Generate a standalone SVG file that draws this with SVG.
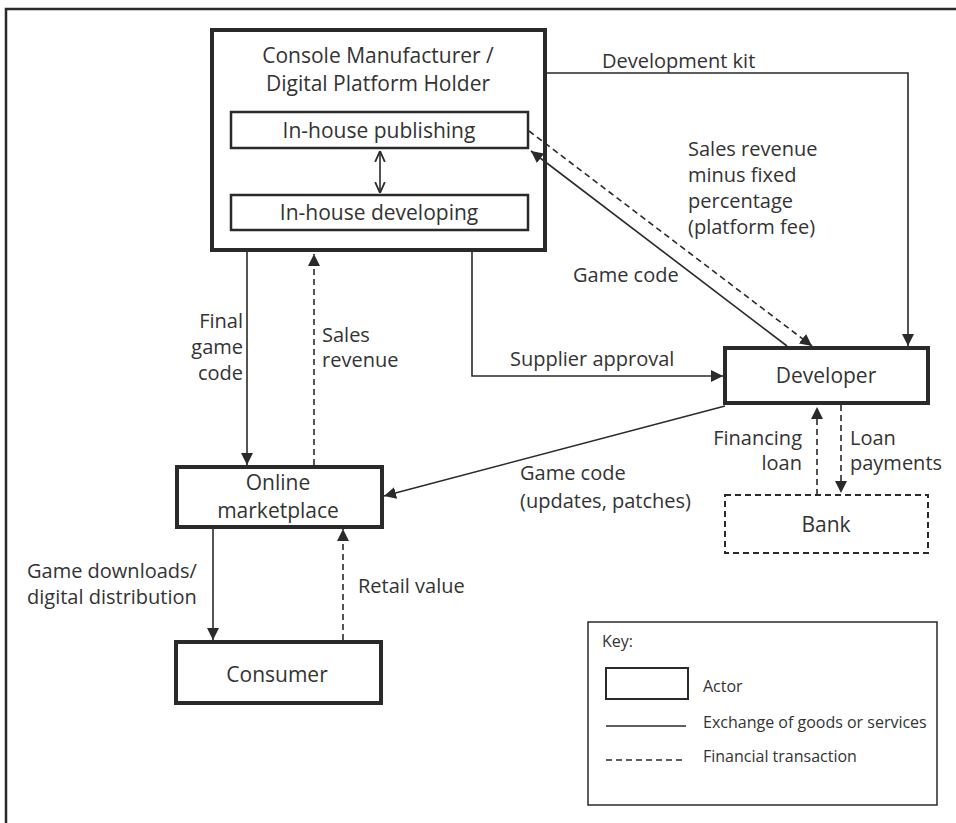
<svg xmlns="http://www.w3.org/2000/svg" width="956" height="823" viewBox="0 0 956 823">
<defs>
<style>
text{font-family:"Open Sans","Noto Sans","Liberation Sans",sans-serif;fill:#333;}
.node{font-size:21px;text-anchor:middle;}
.lbl{font-size:20px;}
.key{font-size:16px;}
.actor{fill:#fff;stroke:#2a2a2a;stroke-width:4;}
.inner{fill:#fff;stroke:#2a2a2a;stroke-width:2.5;}
.c{fill:none;stroke:#2a2a2a;stroke-width:1.6;}
.d{stroke-dasharray:6 4;}
</style>
<marker id="ah" viewBox="0 0 10 10" refX="10" refY="5" markerWidth="12" markerHeight="12" markerUnits="userSpaceOnUse" orient="auto">
<path d="M0,0 L10,5 L0,10 Z" fill="#2a2a2a"/>
</marker>
<marker id="oh" viewBox="0 0 10 10" refX="10" refY="5" markerWidth="12" markerHeight="12" markerUnits="userSpaceOnUse" orient="auto-start-reverse">
<path d="M1,1 L10,5 L1,9" fill="none" stroke="#2a2a2a" stroke-width="1.5"/>
</marker>
</defs>
<rect width="956" height="823" fill="#fff"/>
<path d="M6,823 V9 H956" fill="none" stroke="#2a2a2a" stroke-width="2.5"/>

<g id="platform-holder">
<rect class="actor" x="212" y="30" width="333" height="220"/>
<text class="node" x="378" y="63">Console Manufacturer  /</text>
<text class="node" x="378" y="91">Digital Platform Holder</text>
</g>
<g id="in-house-publishing">
<rect class="inner" x="231" y="112" width="297" height="36"/>
<text class="node" x="379" y="138">In-house publishing</text>
</g>
<g id="in-house-developing">
<rect class="inner" x="231" y="195" width="297" height="35"/>
<text class="node" x="379" y="220">In-house developing</text>
</g>
<g id="developer">
<rect class="actor" x="725" y="348" width="203" height="55"/>
<text class="node" x="826" y="383">Developer</text>
</g>
<g id="bank">
<rect x="725" y="495" width="203" height="58" fill="#fff" stroke="#2a2a2a" stroke-width="2" stroke-dasharray="6 4"/>
<text class="node" x="826" y="532">Bank</text>
</g>
<g id="online-marketplace">
<rect class="actor" x="177" y="467" width="205" height="60"/>
<text class="node" x="278" y="490">Online</text>
<text class="node" x="278" y="518">marketplace</text>
</g>
<g id="consumer">
<rect class="actor" x="176" y="642" width="205" height="61"/>
<text class="node" x="277" y="682">Consumer</text>
</g>

<g id="connectors">
<line class="c" x1="380" y1="151" x2="380" y2="193" marker-start="url(#oh)" marker-end="url(#oh)"/>
<path class="c" d="M547,73 H908 V346" marker-end="url(#ah)"/>
<line class="c" x1="787" y1="346" x2="531" y2="151" marker-end="url(#ah)"/>
<line class="c d" x1="529" y1="131" x2="812" y2="346" marker-end="url(#ah)"/>
<path class="c" d="M472,252 V376 H723" marker-end="url(#ah)"/>
<line class="c" x1="247" y1="252" x2="247" y2="465" marker-end="url(#ah)"/>
<line class="c d" x1="314" y1="465" x2="314" y2="254" marker-end="url(#ah)"/>
<line class="c" x1="725" y1="406" x2="384" y2="496" marker-end="url(#ah)"/>
<line class="c d" x1="817" y1="495" x2="817" y2="407" marker-end="url(#ah)"/>
<line class="c d" x1="841" y1="405" x2="841" y2="493" marker-end="url(#ah)"/>
<line class="c" x1="213" y1="529" x2="213" y2="640" marker-end="url(#ah)"/>
<line class="c d" x1="343" y1="640" x2="343" y2="529" marker-end="url(#ah)"/>
</g>

<g id="labels">
<text class="lbl" x="602" y="68">Development kit</text>
<text class="lbl" x="688" y="156">Sales revenue</text>
<text class="lbl" x="688" y="182">minus fixed</text>
<text class="lbl" x="688" y="208">percentage</text>
<text class="lbl" x="688" y="234">(platform fee)</text>
<text class="lbl" x="573" y="282">Game code</text>
<text class="lbl" x="510" y="366">Supplier approval</text>
<text class="lbl" x="243" y="328" text-anchor="end">Final</text>
<text class="lbl" x="243" y="354" text-anchor="end">game</text>
<text class="lbl" x="243" y="380" text-anchor="end">code</text>
<text class="lbl" x="322" y="342">Sales</text>
<text class="lbl" x="322" y="367">revenue</text>
<text class="lbl" x="520" y="480">Game code</text>
<text class="lbl" x="520" y="508">(updates, patches)</text>
<text class="lbl" x="802" y="445" text-anchor="end">Financing</text>
<text class="lbl" x="802" y="470" text-anchor="end">loan</text>
<text class="lbl" x="850" y="445">Loan</text>
<text class="lbl" x="850" y="470">payments</text>
<text class="lbl" x="27" y="578">Game downloads/</text>
<text class="lbl" x="27" y="604">digital distribution</text>
<text class="lbl" x="358" y="593">Retail value</text>
</g>

<g id="key">
<rect x="588" y="622" width="349" height="183" fill="#fff" stroke="#2a2a2a" stroke-width="1.5"/>
<text class="key" x="602" y="647">Key:</text>
<rect x="606" y="668" width="82" height="31" fill="#fff" stroke="#2a2a2a" stroke-width="2"/>
<text class="key" x="703" y="692">Actor</text>
<line x1="606" y1="726" x2="686" y2="726" stroke="#2a2a2a" stroke-width="1.6"/>
<text class="key" x="703" y="728">Exchange of goods or services</text>
<line x1="606" y1="760" x2="686" y2="760" stroke="#2a2a2a" stroke-width="1.6" stroke-dasharray="6 4"/>
<text class="key" x="703" y="762">Financial transaction</text>
</g>
</svg>
